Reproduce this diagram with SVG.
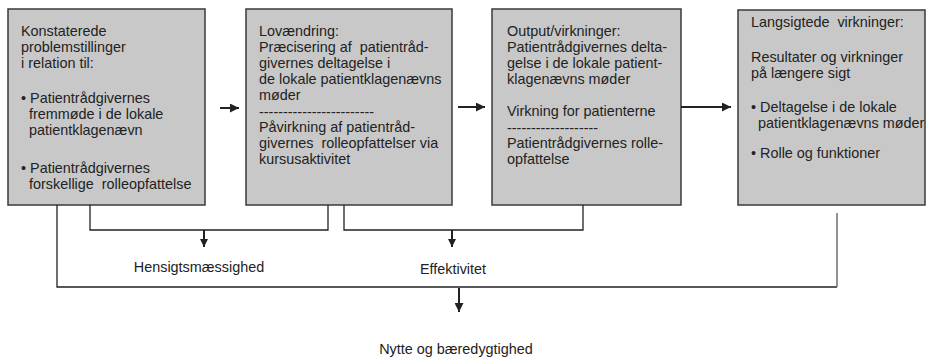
<svg xmlns="http://www.w3.org/2000/svg" width="927" height="358" viewBox="0 0 927 358">
<style>
.box{fill:#c8c8c8;stroke:#3a3a3a;stroke-width:1.5}
.t{font-family:"Liberation Sans",Arial,sans-serif;font-size:14.4px;fill:#222}
.lbl{font-family:"Liberation Sans",Arial,sans-serif;font-size:14.4px;fill:#222;text-anchor:middle}
.ln{fill:none;stroke:#222;stroke-width:1.3}
.arr{fill:none;stroke:#222;stroke-width:2}
</style>
<defs>
<marker id="ah" viewBox="0 0 10 10" refX="10" refY="5" markerWidth="9" markerHeight="9" markerUnits="userSpaceOnUse" orient="auto">
<path d="M0,0 L10,5 L0,10 z" fill="#222"/>
</marker>
<marker id="ahs" viewBox="0 0 10 10" refX="10" refY="5" markerWidth="8" markerHeight="8" markerUnits="userSpaceOnUse" orient="auto">
<path d="M0,0 L10,5 L0,10 z" fill="#222"/>
</marker>
</defs>
<rect width="927" height="358" fill="#fff"/>

<g id="node-problemer">
<rect class="box" x="8" y="9" width="197" height="196"/>
<text class="t" x="21" y="36">Konstaterede</text>
<text class="t" x="21" y="52">problemstillinger</text>
<text class="t" x="21" y="68">i relation til:</text>
<text class="t" x="21" y="103">• Patientrådgivernes</text>
<text class="t" x="29" y="119">fremmøde i de lokale</text>
<text class="t" x="29" y="135">patientklagenævn</text>
<text class="t" x="21" y="173">• Patientrådgivernes</text>
<text class="t" x="29" y="189" xml:space="preserve">forskellige  rolleopfattelse</text>
</g>

<g id="node-lovaendring">
<rect class="box" x="246" y="9" width="206" height="196"/>
<text class="t" x="259" y="36">Lovændring:</text>
<text class="t" x="259" y="52" xml:space="preserve">Præcisering af  patientråd-</text>
<text class="t" x="259" y="68">givernes deltagelse i</text>
<text class="t" x="259" y="84">de lokale patientklagenævns</text>
<text class="t" x="259" y="100">møder</text>
<text class="t" x="259" y="117">------------------------</text>
<text class="t" x="259" y="132">Påvirkning af patientråd-</text>
<text class="t" x="259" y="148" xml:space="preserve">givernes  rolleopfattelser via</text>
<text class="t" x="259" y="164">kursusaktivitet</text>
</g>

<g id="node-output">
<rect class="box" x="492" y="9" width="189" height="196"/>
<text class="t" x="507" y="36">Output/virkninger:</text>
<text class="t" x="507" y="52">Patientrådgivernes delta-</text>
<text class="t" x="507" y="68">gelse i de lokale patient-</text>
<text class="t" x="507" y="84">klagenævns møder</text>
<text class="t" x="507" y="116">Virkning for patienterne</text>
<text class="t" x="507" y="133">-------------------</text>
<text class="t" x="507" y="148">Patientrådgivernes rolle-</text>
<text class="t" x="507" y="164">opfattelse</text>
</g>

<g id="node-langsigtede">
<rect class="box" x="738" y="10" width="187" height="195"/>
<text class="t" x="751" y="27" xml:space="preserve">Langsigtede  virkninger:</text>
<text class="t" x="751" y="62">Resultater og virkninger</text>
<text class="t" x="751" y="78">på længere sigt</text>
<text class="t" x="751" y="112">• Deltagelse i de lokale</text>
<text class="t" x="758" y="128">patientklagenævns møder</text>
<text class="t" x="751" y="158">• Rolle og funktioner</text>
</g>

<g id="connectors">
<line class="arr" x1="220" y1="108" x2="239" y2="108" marker-end="url(#ah)"/>
<line class="arr" x1="458" y1="107" x2="485" y2="107" marker-end="url(#ah)"/>
<line class="arr" x1="681" y1="107" x2="731" y2="107" marker-end="url(#ah)"/>
<polyline class="ln" points="90,205 90,230 328,230 328,205"/>
<line class="arr" x1="204" y1="230" x2="204" y2="247" marker-end="url(#ahs)"/>
<polyline class="ln" points="344,205 344,230 583,230 583,205"/>
<line class="arr" x1="452" y1="230" x2="452" y2="247" marker-end="url(#ahs)"/>
<polyline class="ln" points="57,205 57,287 837,287"/>
<line x1="837" y1="213" x2="837" y2="287" stroke="#777" stroke-width="1.6"/>
<line class="arr" x1="459" y1="288" x2="459" y2="312" marker-end="url(#ah)"/>
</g>

<g id="labels">
<text class="lbl" x="199" y="272">Hensigtsmæssighed</text>
<text class="lbl" x="453" y="274">Effektivitet</text>
<text class="lbl" x="456" y="354">Nytte og bæredygtighed</text>
</g>
</svg>
